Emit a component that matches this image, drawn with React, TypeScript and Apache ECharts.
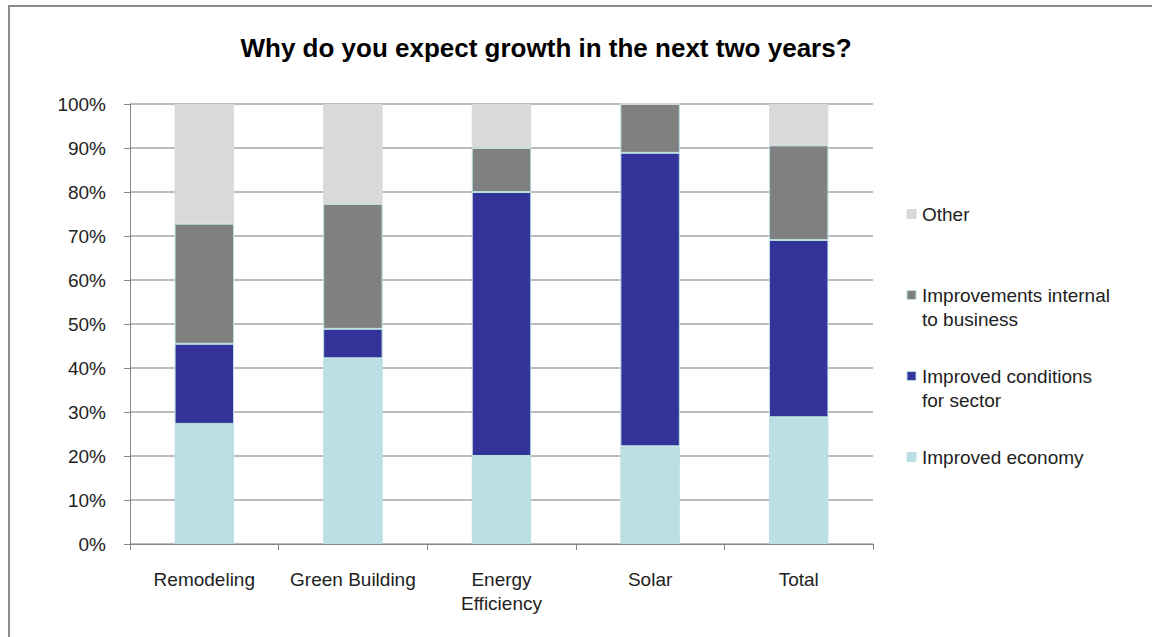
import React, { useEffect, useRef } from "react";
import * as echarts from "echarts";

const categories = ["Remodeling", "Green Building", "Energy\nEfficiency", "Solar", "Total"];
const improvedEconomy = [27.3, 42.2, 20.0, 22.2, 28.8];
const improvedConditions = [18.2, 6.7, 60.0, 66.7, 40.3];
const improvementsInternal = [27.3, 28.4, 10.0, 11.1, 21.5];
const other = [27.2, 22.7, 10.0, 0, 9.4];
const seriesNames = [
  "Improved economy",
  "Improved conditions\nfor sector",
  "Improvements internal\nto business",
  "Other",
];
const seriesColors = ["#bbe0e3", "#333399", "#808080", "#d9d9d9"];
const legendCenters = [457, 376, 295, 214];

export default function App() {
  const ref = useRef<HTMLDivElement>(null);
  useEffect(() => {
    if (!ref.current) return;
    const chart = echarts.init(ref.current, null, { renderer: "svg" });
    const data = [improvedEconomy, improvedConditions, improvementsInternal, other];
    const font = "Liberation Sans, Arial, sans-serif";
    const series = data.map((d, i) => ({
      name: seriesNames[i],
      type: "bar",
      stack: "all",
      barWidth: "40%",
      data: d,
      itemStyle: {
        color: seriesColors[i],
        borderColor: i === 0 || i === 3 ? seriesColors[i] : "#b9dfe3",
        borderWidth: 1,
      },
    }));
    const legendGraphics: any[] = [];
    seriesNames.forEach((n, i) => {
      const cy = legendCenters[i];
      legendGraphics.push({
        type: "rect",
        shape: { x: 907, y: cy - 4.5, width: 9, height: 9 },
        style: {
          fill: seriesColors[i],
          stroke: i === 0 || i === 3 ? seriesColors[i] : "#b9dfe3",
          lineWidth: 1,
        },
        silent: true,
      });
      legendGraphics.push({
        type: "text",
        x: 922,
        y: cy - 12,
        style: {
          text: n,
          fontFamily: font,
          fontSize: 19,
          lineHeight: 24,
          fill: "#222",
          verticalAlign: "top",
        },
        silent: true,
      });
    });
    chart.setOption({
      animation: false,
      backgroundColor: "#fff",
      title: {
        text: "Why do you expect growth in the next two years?",
        left: 541,
        top: 30,
        textAlign: "center",
        textStyle: { fontFamily: font, fontSize: 26, fontWeight: "bold", color: "#000" },
      },
      grid: { left: 130, right: 279, top: 104, bottom: 93 },
      xAxis: {
        type: "category",
        data: categories,
        axisLine: { lineStyle: { color: "#868686", width: 1 } },
        axisTick: { show: true, length: 6, lineStyle: { color: "#868686" } },
        axisLabel: {
          interval: 0,
          margin: 23,
          fontFamily: font,
          fontSize: 19,
          color: "#222",
          lineHeight: 24,
        },
      },
      yAxis: {
        type: "value",
        min: 0,
        max: 100,
        interval: 10,
        axisLine: { show: true, lineStyle: { color: "#868686", width: 1 } },
        axisTick: { show: true, length: 6, lineStyle: { color: "#868686" } },
        axisLabel: {
          margin: 24,
          fontFamily: font,
          fontSize: 19,
          color: "#222",
          formatter: "{value}%",
        },
        splitLine: { lineStyle: { color: "#a6a6a6", width: 1.5 } },
      },
      graphic: [
        {
          type: "rect",
          shape: { x: 9, y: 6, width: 1200, height: 700 },
          style: { fill: "none", stroke: "#8c8c8c", lineWidth: 2 },
          silent: true,
        },
        ...legendGraphics,
      ],
      series,
    });
    return () => chart.dispose();
  }, []);
  return (
    <div
      ref={ref}
      style={{ position: "fixed", left: 0, top: 0, width: 1152, height: 637 }}
    />
  );
}
